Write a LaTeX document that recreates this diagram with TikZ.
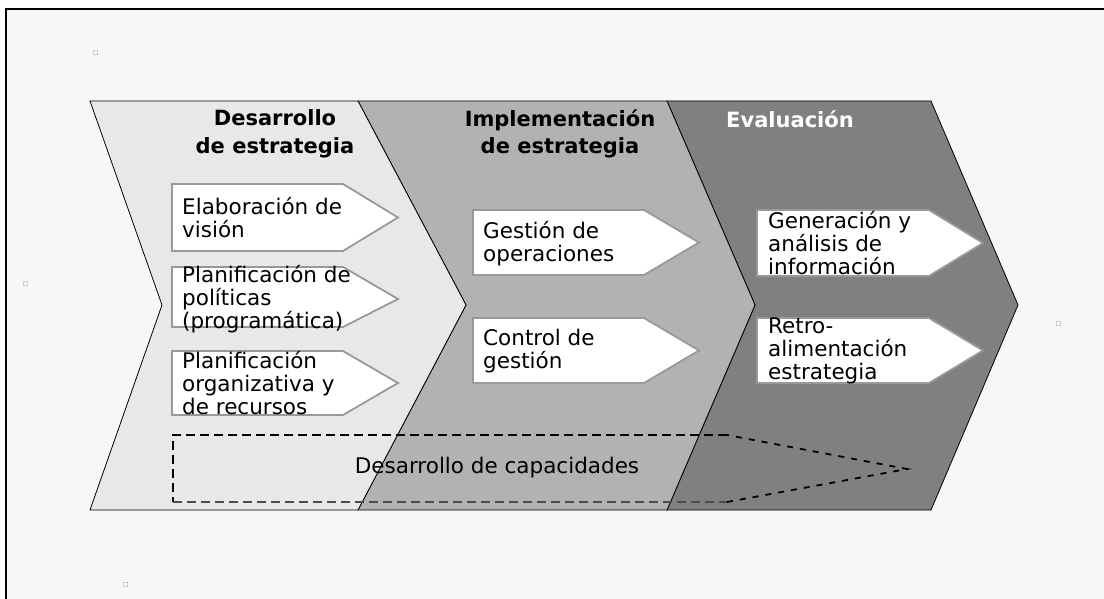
\documentclass[tikz,border=0pt]{standalone}
\usepackage{fontspec}
\setmainfont{DejaVu Sans}
\definecolor{pagebg}{HTML}{F7F7F7}
\definecolor{phaseone}{HTML}{E8E8E8}
\definecolor{phasetwo}{HTML}{B2B2B2}
\definecolor{phasethree}{HTML}{808080}
\definecolor{tagedge}{HTML}{999999}
\tikzset{
  phase/.style={draw=black, line width=0.8pt},
  tagbox/.style={fill=white, draw=tagedge, line width=1.8pt},
  tagtext/.style={anchor=west, align=left, inner sep=0pt, font=\fontsize{21.5}{23}\selectfont},
  head/.style={align=center, inner sep=0pt, font=\fontsize{21}{27.5}\selectfont\bfseries},
  capline/.style={line width=2pt, dash pattern=on 9pt off 5pt},
  capgray/.style={draw=black!70, line width=2.6pt, dash pattern=on 9pt off 5pt},
  capthin/.style={draw=black, line width=1.8pt, dash pattern=on 6pt off 7pt},
  handle/.style={draw=black!20, fill=white, line width=0.5pt},
}
\begin{document}
\begin{tikzpicture}[x=1pt,y=-1pt]
\useasboundingbox (0,0) rectangle (1104,599);
\fill[white] (0,0) rectangle (1104,599);
\fill[pagebg] (6,9) rectangle (1104,599);
\draw[line width=2.3pt] (1104,8.9) -- (6.2,8.9) -- (6.2,599);

% small handles
\draw[handle] (93,50) rectangle ++(4,4);
\draw[handle] (23,281) rectangle ++(4,4);
\draw[handle] (1056,321) rectangle ++(4,4);
\draw[handle] (123,582) rectangle ++(4,4);

% the three phases
\filldraw[phase, fill=phasethree] (667,101) -- (931,101) -- (1018,305) -- (931,510) -- (667,510) -- (755,305) -- cycle;
\filldraw[phase, fill=phasetwo] (358,101) -- (667,101) -- (755,305) -- (667,510) -- (358,510) -- (466,305) -- cycle;
\filldraw[phase, fill=phaseone] (90,101) -- (358,101) -- (466,305) -- (358,510) -- (90,510) -- (162,305) -- cycle;

\node[head] (dev) at (275,134) {Desarrollo\\de estrategia};
\node[head] (impl) at (560,134) {Implementación\\de estrategia};
\node[head, text=white] (eval) at (790,119) {Evaluación};

% tags
\filldraw[tagbox] (172,184) -- (343,184) -- (398,217.5) -- (343,251) -- (172,251) -- cycle;
\filldraw[tagbox] (172,267) -- (343,267) -- (398,299) -- (343,327) -- (172,327) -- cycle;
\filldraw[tagbox] (172,351) -- (343,351) -- (398,383) -- (343,415) -- (172,415) -- cycle;
\filldraw[tagbox] (473,210) -- (644,210) -- (699,242.5) -- (644,275) -- (473,275) -- cycle;
\filldraw[tagbox] (473,318) -- (644,318) -- (699,350.5) -- (644,383) -- (473,383) -- cycle;
\filldraw[tagbox] (757,210) -- (929,210) -- (983,243) -- (929,276) -- (757,276) -- cycle;
\filldraw[tagbox] (757,318) -- (929,318) -- (983,350.5) -- (929,383) -- (757,383) -- cycle;

\node[tagtext] (vision) at (182,217.5) {Elaboración de\\visión};
\node[tagtext] (policy) at (182,299) {Planificación de\\políticas\\(programática)};
\node[tagtext] (resources) at (182,383) {Planificación\\organizativa y\\de recursos};
\node[tagtext] (operations) at (483,243.5) {Gestión de\\operaciones};
\node[tagtext] (control) at (483,351) {Control de\\gestión};
\node[tagtext] (info) at (768,243) {Generación y\\análisis de\\información};
\node[tagtext] (feedback) at (768,351) {Retro-\\alimentación\\estrategia};

% capacities
\coordinate (capNW) at (173,435);
\coordinate (capNE) at (727,435);
\coordinate (capTip) at (907,469);
\coordinate (capSE) at (727,502);
\coordinate (capSW) at (173,502);
\draw[capline] (capNE) -- (capNW) -- (capSW);
\draw[capgray] (capSW) -- (capSE);
\draw[capthin] (capSE) -- (capTip) -- (capNE);
\node[inner sep=0pt, font=\fontsize{21.5}{23}\selectfont] (capacity) at (497,468) {Desarrollo de capacidades};
\end{tikzpicture}
\end{document}
